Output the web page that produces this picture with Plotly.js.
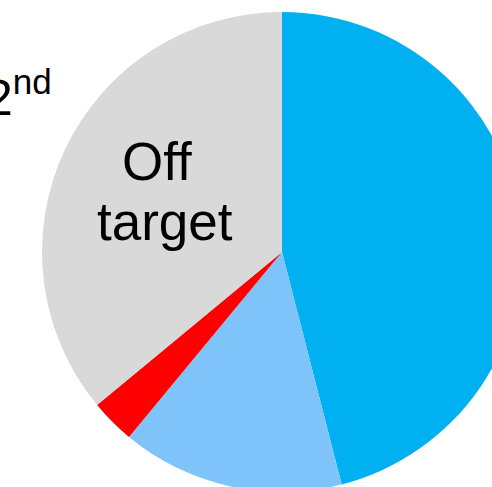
<!DOCTYPE html>
<html>
<head>
<meta charset="utf-8">
<script src="https://cdn.plot.ly/plotly-3.0.1.min.js"></script>
<style>html,body{margin:0;padding:0;overflow:hidden;background:#fff;}</style>
</head>
<body>
<div id="chart"></div>
<script>
var categories = ["Category A", "Category B", "Category C", "Off target"];
var values = [46, 15, 3, 36];
var colors = ["#00B0F0", "#7FC3FB", "#FF0000", "#D9D9D9"];
var labelLines = ["Off", "target"];
var cornerLabel = "2<sup>nd</sup>";

var W = 560, H = 500;
function px(x) { return x / W; }
function py(y) { return 1 - y / H; }

var data = [{
  type: "pie",
  labels: categories,
  values: values,
  marker: {colors: colors, line: {width: 0}},
  sort: false,
  direction: "clockwise",
  rotation: 0,
  textinfo: "none",
  hoverinfo: "none",
  showlegend: false,
  domain: {x: [px(42), px(522)], y: [py(492), py(12)]}
}];

var fnt = {family: "Liberation Sans, Arial, sans-serif", size: 53, color: "#000"};
var fnt2 = {family: "Liberation Sans, Arial, sans-serif", size: 50, color: "#000"};
var layout = {
  width: W, height: H,
  margin: {l: 0, r: 0, t: 0, b: 0},
  paper_bgcolor: "#fff",
  showlegend: false,
  annotations: [
    {text: labelLines[0], x: px(157), y: py(161), xref: "paper", yref: "paper", showarrow: false, xanchor: "center", yanchor: "middle", font: fnt},
    {text: labelLines[1], x: px(165), y: py(222), xref: "paper", yref: "paper", showarrow: false, xanchor: "center", yanchor: "middle", font: fnt},
    {text: cornerLabel, x: px(54), y: py(94), xref: "paper", yref: "paper", showarrow: false, xanchor: "right", yanchor: "middle", font: fnt2}
  ]
};
Plotly.newPlot("chart", data, layout, {displayModeBar: false, staticPlot: true});
</script>
</body>
</html>
